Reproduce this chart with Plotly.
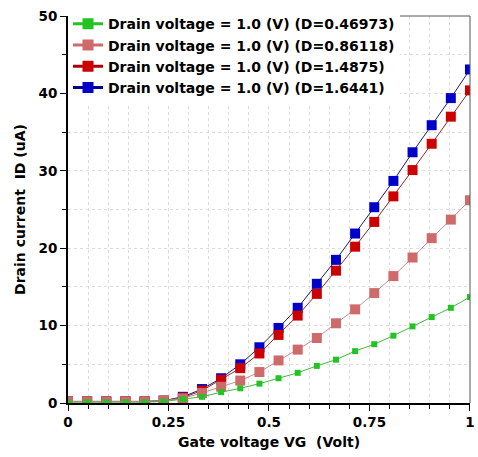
import plotly.graph_objects as go

vg = [i / 21 for i in range(22)]

id_d046973 = [0.1, 0.1, 0.1, 0.1, 0.1, 0.2, 0.5, 0.8, 1.4, 1.9, 2.5, 3.2, 3.9, 4.8, 5.6, 6.7, 7.6, 8.7, 9.9, 11.1, 12.3, 13.7]
id_d086118 = [0.2, 0.2, 0.2, 0.2, 0.2, 0.3, 0.6, 1.3, 2.1, 2.9, 4.0, 5.5, 6.9, 8.4, 10.3, 12.1, 14.2, 16.4, 18.8, 21.3, 23.7, 26.2]
id_d14875 = [0.2, 0.2, 0.2, 0.2, 0.2, 0.3, 0.7, 1.6, 3.0, 4.5, 6.4, 8.8, 11.3, 14.1, 17.1, 20.2, 23.4, 26.7, 30.1, 33.5, 37.0, 40.4]
id_d16441 = [0.2, 0.2, 0.2, 0.2, 0.2, 0.3, 0.8, 1.8, 3.2, 5.0, 7.2, 9.7, 12.3, 15.4, 18.5, 21.9, 25.3, 28.7, 32.4, 35.9, 39.4, 43.1]

names = [
    "Drain voltage = 1.0 (V) (D=0.46973)",
    "Drain voltage = 1.0 (V) (D=0.86118)",
    "Drain voltage = 1.0 (V) (D=1.4875)",
    "Drain voltage = 1.0 (V) (D=1.6441)",
]
series = [id_d046973, id_d086118, id_d14875, id_d16441]
marker_colors = ["#22c322", "#cf6a6a", "#cc0000", "#0000c8"]
line_colors = ["#40b840", "#c09090", "#8a2a2a", "#1c1c70"]
legend_line_colors = ["#22c322", "#cf6a6a", "#aa0000", "#00008a"]
marker_sizes = [6, 10, 10, 10]

fig = go.Figure()
# data traces drawn bottom to top: blue, red, pink, green
for k in [3, 2, 1, 0]:
    fig.add_trace(go.Scatter(x=vg, y=series[k], name=names[k], mode="lines+markers",
                             showlegend=False,
                             line=dict(color=line_colors[k], width=1),
                             marker=dict(symbol="square", size=marker_sizes[k],
                                         color=marker_colors[k])))
# legend entries
for k in range(4):
    fig.add_trace(go.Scatter(x=[None], y=[None], name=names[k], mode="lines+markers",
                             line=dict(color=legend_line_colors[k], width=3),
                             marker=dict(symbol="square", size=11, color=marker_colors[k])))

FF = "DejaVu Sans, Verdana, sans-serif"

fig.update_layout(
    width=478, height=457,
    margin=dict(l=68, r=8, t=8, b=54),
    paper_bgcolor="white", plot_bgcolor="white",
    font=dict(family=FF, color="black"),
    showlegend=True,
    legend=dict(x=0.0, y=1.02, xanchor="left", yanchor="top",
                bgcolor="white", borderwidth=0,
                traceorder="normal",
                font=dict(size=14, family=FF, weight="bold"),
                tracegroupgap=0),
)

fig.update_xaxes(
    range=[0, 1.0001], dtick=0.25, tick0=0, automargin=False,
    ticks="outside", ticklen=6, tickcolor="black", tickwidth=1,
    tickfont=dict(size=13.5, weight="bold"),
    showline=True, linecolor="black", linewidth=2, mirror=False,
    showgrid=True, gridcolor="#dcdcdc", griddash="dot", gridwidth=1,
    zeroline=False,
    minor=dict(dtick=0.05, ticks="outside", ticklen=4, tickcolor="black",
               showgrid=True, gridcolor="#dcdcdc", griddash="dot"),
    title=dict(text="Gate voltage VG\u00a0 (Volt)", font=dict(size=14, weight="bold"), standoff=8),
)
fig.update_yaxes(
    range=[0, 50.01], dtick=10, tick0=0, automargin=False,
    ticks="outside", ticklen=6, tickcolor="black", tickwidth=1,
    tickfont=dict(size=13.5, weight="bold"),
    showline=True, linecolor="black", linewidth=2, mirror=False,
    showgrid=True, gridcolor="#dcdcdc", griddash="dot", gridwidth=1,
    zeroline=False,
    minor=dict(dtick=5, ticks="outside", ticklen=4, tickcolor="black",
               showgrid=True, gridcolor="#dcdcdc", griddash="dot"),
    title=dict(text="Drain current\u00a0 ID (uA)", font=dict(size=14, weight="bold"), standoff=10),
)

# top and right frame lines
fig.add_shape(type="line", xref="paper", yref="paper", x0=0, x1=1, y0=1, y1=1,
              line=dict(color="#555555", width=1))
fig.add_shape(type="line", xref="paper", yref="paper", x0=1, x1=1, y0=0, y1=1,
              line=dict(color="#555555", width=1))

fig.write_html("out.html", config={"displayModeBar": False},
               post_script="document.body.style.margin='0';")
